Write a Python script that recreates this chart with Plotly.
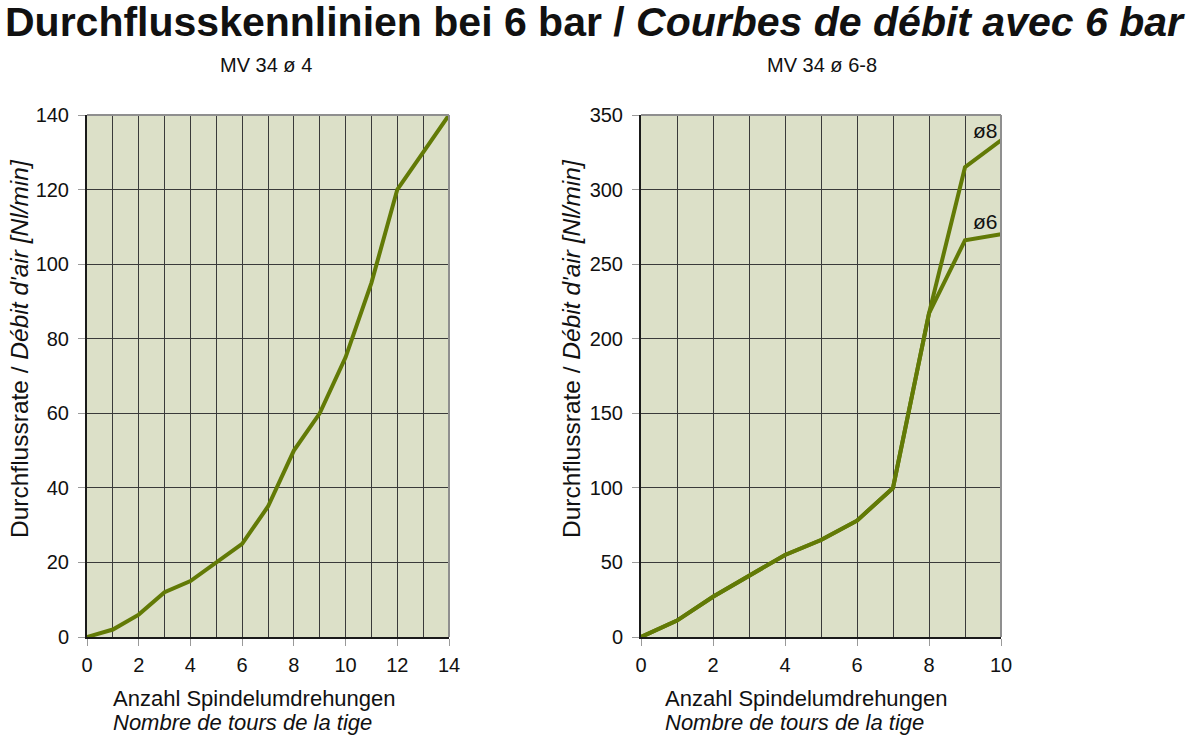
import plotly.graph_objects as go

# Left chart: MV 34 ø 4
x_left = [0, 1, 2, 3, 4, 5, 6, 7, 8, 9, 10, 11, 12, 13, 14]
y_left = [0, 2, 6, 12, 15, 20, 25, 35, 50, 60, 75, 95, 120, 130, 140]

# Right chart: MV 34 ø 6-8 (shared part up to 8 turns, then two branches)
x_right = [0, 1, 2, 3, 4, 5, 6, 7, 8, 9, 10]
y_d8 = [0, 11, 27, 41, 55, 65, 78, 100, 217, 315, 333]
y_d6 = [0, 11, 27, 41, 55, 65, 78, 100, 217, 266, 270]

left_ticks_x = [0, 2, 4, 6, 8, 10, 12, 14]
left_ticks_y = [0, 20, 40, 60, 80, 100, 120, 140]
right_ticks_x = [0, 2, 4, 6, 8, 10]
right_ticks_y = [0, 50, 100, 150, 200, 250, 300, 350]

title_main = "Durchflusskennlinien bei 6 bar / "
title_fr = "Courbes de débit avec 6 bar"
sub_left = "MV 34 ø 4"
sub_right = "MV 34 ø 6-8"
ytitle = "Durchflussrate / <i>Débit d'air [Nl/min]</i>"
xtitle_de = "Anzahl Spindelumdrehungen"
xtitle_fr = "Nombre de tours de la tige"
label_d8 = "ø8"
label_d6 = "ø6"

W, H = 1194, 741
FONT = "Liberation Sans, Arial, Helvetica, sans-serif"
LINE = "#627a06"
BG = "#dce0c8"
GRID = "#3a3a3a"
TXT = "#111111"


def px_x(p):
    return p / W


def px_y(p):
    return 1 - p / H


fig = go.Figure()
fig.add_trace(go.Scatter(x=x_left, y=y_left, mode="lines",
                         line=dict(color=LINE, width=4), xaxis="x", yaxis="y",
                         showlegend=False))
fig.add_trace(go.Scatter(x=x_right, y=y_d8, mode="lines",
                         line=dict(color=LINE, width=4), xaxis="x2", yaxis="y2",
                         showlegend=False))
fig.add_trace(go.Scatter(x=x_right, y=y_d6, mode="lines",
                         line=dict(color=LINE, width=4), xaxis="x2", yaxis="y2",
                         showlegend=False))

ydom = [px_y(637), px_y(115)]


def xaxis(dom, rng, ticks, anchor):
    return dict(domain=dom, range=rng, tickvals=ticks, anchor=anchor,
                automargin=False,
                showgrid=True, gridcolor=GRID, gridwidth=1,
                minor=dict(dtick=1, tick0=0, showgrid=True, gridcolor=GRID,
                           gridwidth=1, ticks=""),
                ticks="outside", ticklen=7, tickcolor="#9a9a9a", tickwidth=1,
                ticklabelstandoff=2,
                showline=True, linecolor="#1a1a1a", linewidth=2,
                zeroline=False, fixedrange=True,
                tickfont=dict(family=FONT, size=20, color=TXT))


def yaxis(dom, rng, ticks, anchor):
    return dict(domain=dom, range=rng, tickvals=ticks, anchor=anchor,
                automargin=False,
                showgrid=True, gridcolor=GRID, gridwidth=1,
                ticks="outside", ticklen=7, tickcolor="#9a9a9a", tickwidth=1,
                ticklabelstandoff=5,
                showline=True, linecolor="#1a1a1a", linewidth=2,
                zeroline=False, fixedrange=True,
                tickfont=dict(family=FONT, size=20, color=TXT))


fig.update_layout(
    width=W, height=H, autosize=False,
    margin=dict(l=0, r=0, t=0, b=0, pad=0),
    paper_bgcolor="white", plot_bgcolor=BG,
    xaxis=xaxis([px_x(87), px_x(449)], [0, 14], left_ticks_x, "y"),
    yaxis=yaxis(ydom, [0, 140], left_ticks_y, "x"),
    xaxis2=xaxis([px_x(641), px_x(1001)], [0, 10], right_ticks_x, "y2"),
    yaxis2=yaxis(ydom, [0, 350], right_ticks_y, "x2"),
    font=dict(family=FONT, color=TXT),
    hovermode=False,
)

shapes = []
for xr, yr in (("x domain", "y domain"), ("x2 domain", "y2 domain")):
    shapes.append(dict(type="line", xref=xr, yref=yr, x0=0, x1=1, y0=1, y1=1,
                       line=dict(color="#8f8f8f", width=2)))
    shapes.append(dict(type="line", xref=xr, yref=yr, x0=1, x1=1, y0=0, y1=1,
                       line=dict(color="#8f8f8f", width=2)))
fig.update_layout(shapes=shapes)

ann = []
ann.append(dict(text="<b>" + title_main + "<i>" + title_fr + "</i></b>",
                x=px_x(595), y=px_y(22), xref="paper", yref="paper",
                xanchor="center", yanchor="middle", showarrow=False,
                font=dict(family=FONT, size=41, color=TXT)))
ann.append(dict(text=sub_left, x=px_x(266), y=px_y(65), xref="paper", yref="paper",
                xanchor="center", yanchor="middle", showarrow=False,
                font=dict(family=FONT, size=20, color=TXT)))
ann.append(dict(text=sub_right, x=px_x(822), y=px_y(65), xref="paper", yref="paper",
                xanchor="center", yanchor="middle", showarrow=False,
                font=dict(family=FONT, size=20, color=TXT)))
for xc in (19, 571):
    ann.append(dict(text=ytitle, x=px_x(xc), y=px_y(349), xref="paper", yref="paper",
                    xanchor="center", yanchor="middle", showarrow=False, textangle=-90,
                    font=dict(family=FONT, size=24.5, color=TXT)))
for xl in (111, 663):
    ann.append(dict(text=xtitle_de, x=px_x(xl), y=px_y(698), xref="paper", yref="paper",
                    xanchor="left", yanchor="middle", showarrow=False,
                    font=dict(family=FONT, size=22, color=TXT)))
    ann.append(dict(text="<i>" + xtitle_fr + "</i>", x=px_x(xl), y=px_y(722),
                    xref="paper", yref="paper",
                    xanchor="left", yanchor="middle", showarrow=False,
                    font=dict(family=FONT, size=22, color=TXT)))
ann.append(dict(text=label_d8, x=px_x(986), y=px_y(130), xref="paper", yref="paper",
                xanchor="center", yanchor="middle", showarrow=False,
                font=dict(family=FONT, size=21, color=TXT)))
ann.append(dict(text=label_d6, x=px_x(986), y=px_y(222), xref="paper", yref="paper",
                xanchor="center", yanchor="middle", showarrow=False,
                font=dict(family=FONT, size=21, color=TXT)))
fig.update_layout(annotations=ann)

fig.write_html("out.html",
               config={"displayModeBar": False, "staticPlot": True},
               post_script="document.body.style.margin='0';"
                           "document.body.style.overflow='hidden';")
